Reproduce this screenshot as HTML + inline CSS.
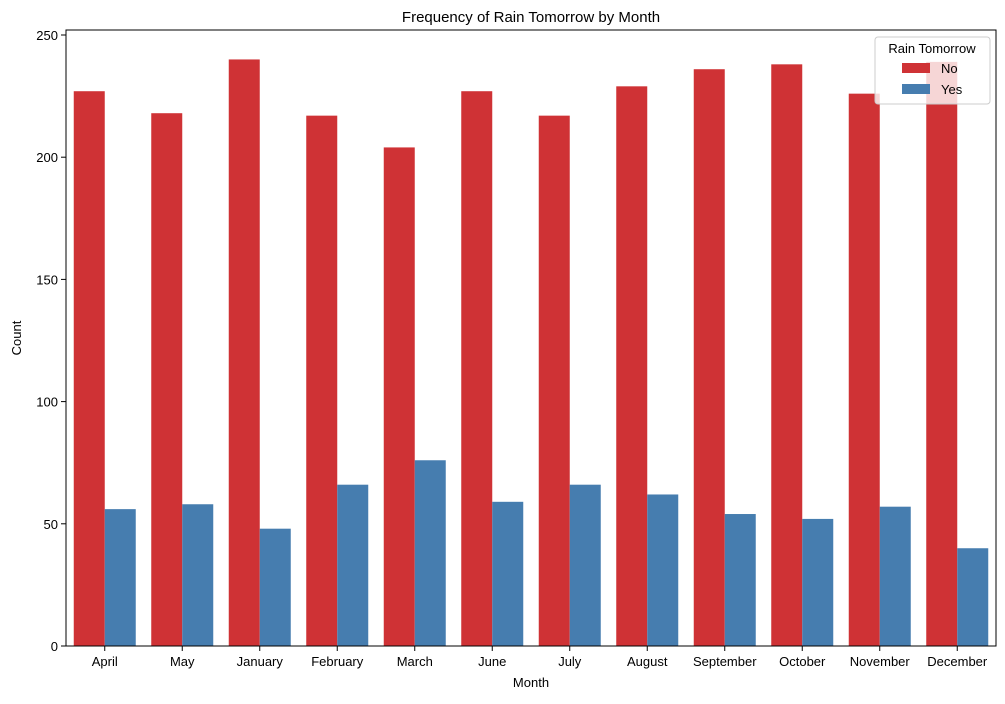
<!DOCTYPE html>
<html><head><meta charset="utf-8"><style>
body{margin:0;background:#fff;font-family:"Liberation Sans","DejaVu Sans",sans-serif;}
svg text{font-family:"Liberation Sans","DejaVu Sans",sans-serif;fill:#000;}
</style></head><body>
<svg id="chart" width="1005" height="699" xmlns="http://www.w3.org/2000/svg">
<text x="531" y="22" font-size="15" text-anchor="middle">Frequency of Rain Tomorrow by Month</text>
<g id="bars"></g><g id="axes"></g>
<text x="531" y="687" font-size="13" text-anchor="middle">Month</text>
<text x="21" y="338" font-size="13" text-anchor="middle" transform="rotate(-90 21 338)">Count</text>
<g>
<rect x="875" y="37" width="115" height="67" fill="#fff" fill-opacity="0.8" stroke="#ccc" rx="3"/>
<text x="932" y="53" font-size="13" text-anchor="middle">Rain Tomorrow</text>
<rect x="902" y="63" width="28" height="10" fill="#cf3235"/>
<text x="941" y="73" font-size="13">No</text>
<rect x="902" y="84" width="28" height="10" fill="#467daf"/>
<text x="941" y="94" font-size="13">Yes</text>
</g>
</svg>
<script>
const categories=["April","May","January","February","March","June","July","August","September","October","November","December"];
const noValues=[227,218,240,217,204,227,217,229,236,238,226,239];
const yesValues=[56,58,48,66,76,59,66,62,54,52,57,40];
const yTicks=[0,50,100,150,200,250];
const L=66,R=996,T=30,B=646,ppu=2.444;
const y=v=>B-v*ppu;
const band=(R-L)/categories.length;
const NS="http://www.w3.org/2000/svg";
const bars=document.getElementById('bars'),axes=document.getElementById('axes');
function mk(tag,attrs,parent){const e=document.createElementNS(NS,tag);for(const k in attrs)e.setAttribute(k,attrs[k]);parent.appendChild(e);return e;}
categories.forEach((c,i)=>{
  const x0=L+band*i+band*0.1,w=band*0.4;
  const a=mk('rect',{x:x0,y:y(noValues[i]),width:w,height:noValues[i]*ppu,fill:'#cf3235'},bars);
  
  
  const b=mk('rect',{x:x0+w,y:y(yesValues[i]),width:w,height:yesValues[i]*ppu,fill:'#467daf'},bars);
  
  
  const cx=L+band*(i+0.5);
  mk('line',{x1:cx,x2:cx,y1:B,y2:B+5,stroke:'#000'},axes);
  const t=mk('text',{x:cx,y:B+20,'font-size':13,'text-anchor':'middle'},axes);
  t.textContent=c;
  
  
});
yTicks.forEach(v=>{
  mk('line',{x1:L-5,x2:L,y1:y(v),y2:y(v),stroke:'#000'},axes);
  const t=mk('text',{x:L-8,y:y(v)+5,'font-size':13,'text-anchor':'end'},axes);
  t.textContent=v;
  
  
});
mk('rect',{x:L,y:T,width:R-L,height:B-T,fill:'none',stroke:'#000','stroke-width':1},axes);
</script>
</body></html>
